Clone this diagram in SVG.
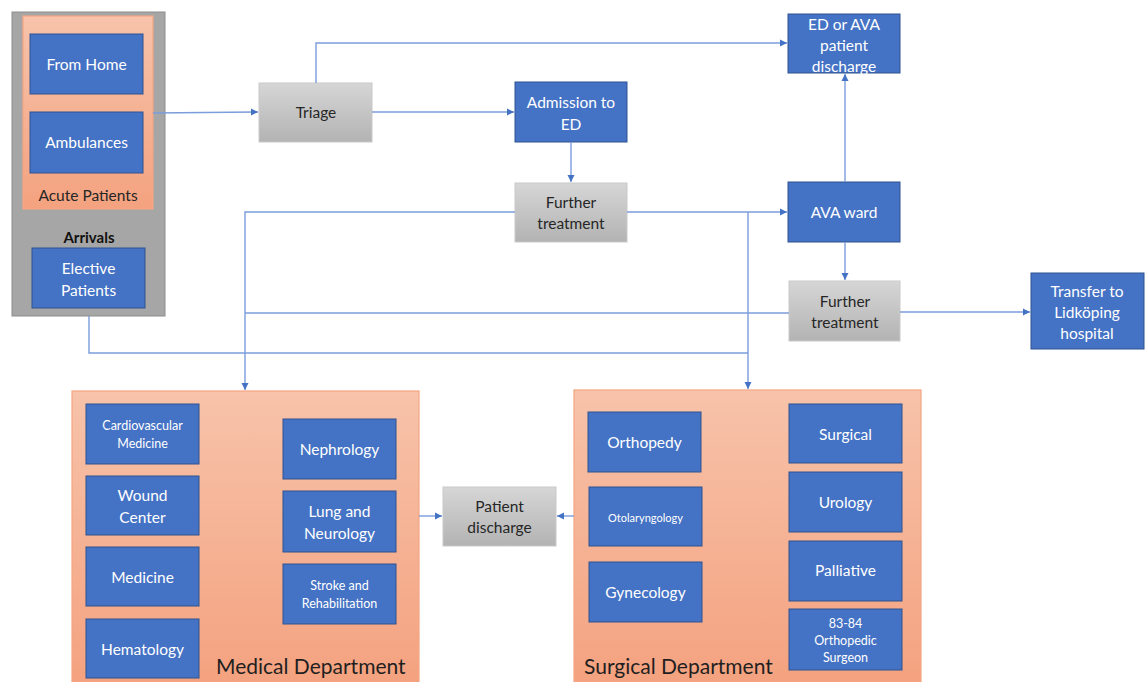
<svg xmlns="http://www.w3.org/2000/svg" width="1146" height="682" viewBox="0 0 1146 682">
<defs>
<linearGradient id="gGray" x1="0" y1="0" x2="0" y2="1"><stop offset="0" stop-color="#d6d6d6"/><stop offset="1" stop-color="#b3b3b3"/></linearGradient>
<linearGradient id="gOrange" x1="0" y1="0" x2="0" y2="1"><stop offset="0" stop-color="#f7c3aa"/><stop offset="1" stop-color="#f4a27f"/></linearGradient>
<marker id="arr" markerWidth="8" markerHeight="8" refX="7" refY="4" orient="auto" markerUnits="userSpaceOnUse"><path d="M0,0.5 L7,4 L0,7.5 Z" fill="#4472c4"/></marker>
<style>
.blue{fill:#4472c4;stroke:#2f528f;stroke-width:1}
.gray{fill:url(#gGray);stroke:#c9c9c9;stroke-width:1}
.dept{fill:url(#gOrange);stroke:#f4a582;stroke-width:1.2}
.wt{font-family:Lato,"Open Sans","Liberation Sans",sans-serif;font-size:15.5px;fill:#ffffff;text-anchor:middle;dominant-baseline:central}
.dt{font-family:Lato,"Open Sans","Liberation Sans",sans-serif;font-size:15.5px;fill:#262626;text-anchor:middle;dominant-baseline:central}
.big{font-family:Lato,"Open Sans","Liberation Sans",sans-serif;font-size:21px;fill:#1f1f1f}
.sm{font-size:12.5px}
.xs{font-size:11px}
.conn{fill:none;stroke:#7b9ddb;stroke-width:1.4}
</style>
</defs>

<g id="arrivals">
<rect x="12" y="12" width="153" height="304" fill="#a6a6a6" stroke="#8c8c8c"/>
<text class="dt" x="89" y="237" style="font-weight:bold;font-size:15px;fill:#111">Arrivals</text>
</g>
<g id="acute-patients">
<rect x="23" y="16" width="130" height="193" class="dept"/>
<text class="dt" x="88" y="195">Acute Patients</text>
</g>
<g id="from-home"><rect class="blue" x="30" y="34" width="113" height="60"/><text class="wt" x="86.5" y="64">From Home</text></g>
<g id="ambulances"><rect class="blue" x="30" y="112" width="113" height="61"/><text class="wt" x="86.5" y="142">Ambulances</text></g>
<g id="elective-patients"><rect class="blue" x="32" y="248" width="113" height="60"/><text class="wt" x="88.5" y="268">Elective</text><text class="wt" x="88.5" y="290">Patients</text></g>

<g id="triage"><rect class="gray" x="259" y="83" width="113" height="59"/><text class="dt" x="316" y="112">Triage</text></g>
<g id="admission-ed"><rect class="blue" x="515" y="82" width="112" height="60"/><text class="wt" x="571" y="102">Admission to</text><text class="wt" x="571" y="124">ED</text></g>
<g id="further-treatment-1"><rect class="gray" x="515" y="183" width="112" height="59"/><text class="dt" x="571" y="202">Further</text><text class="dt" x="571" y="223">treatment</text></g>
<g id="ed-ava-discharge"><rect class="blue" x="788" y="14" width="112" height="59"/><text class="wt" x="844" y="24">ED or AVA</text><text class="wt" x="844" y="45">patient</text><text class="wt" x="844" y="66">discharge</text></g>
<g id="ava-ward"><rect class="blue" x="788" y="182" width="112" height="60"/><text class="wt" x="844" y="212">AVA ward</text></g>
<g id="further-treatment-2"><rect class="gray" x="789" y="281" width="111" height="60"/><text class="dt" x="845" y="301">Further</text><text class="dt" x="845" y="322">treatment</text></g>
<g id="transfer-lidkoping"><rect class="blue" x="1031" y="273" width="113" height="76"/><text class="wt" x="1087" y="291">Transfer to</text><text class="wt" x="1087" y="312">Lidköping</text><text class="wt" x="1087" y="333">hospital</text></g>

<g id="medical-department">
<rect class="dept" x="72" y="391" width="347" height="292"/>
<text class="big" x="216" y="674">Medical Department</text>
</g>
<g id="cardiovascular"><rect class="blue" x="86" y="404" width="113" height="60"/><text class="wt sm" x="142.5" y="425">Cardiovascular</text><text class="wt sm" x="142.5" y="443">Medicine</text></g>
<g id="wound-center"><rect class="blue" x="86" y="476" width="113" height="59"/><text class="wt" x="142.5" y="495">Wound</text><text class="wt" x="142.5" y="517">Center</text></g>
<g id="medicine"><rect class="blue" x="86" y="547" width="113" height="59"/><text class="wt" x="142.5" y="577">Medicine</text></g>
<g id="hematology"><rect class="blue" x="86" y="619" width="113" height="59"/><text class="wt" x="142.5" y="649">Hematology</text></g>
<g id="nephrology"><rect class="blue" x="283" y="419" width="113" height="60"/><text class="wt" x="339.5" y="449">Nephrology</text></g>
<g id="lung-neurology"><rect class="blue" x="283" y="491" width="113" height="61"/><text class="wt" x="339.5" y="511">Lung and</text><text class="wt" x="339.5" y="533">Neurology</text></g>
<g id="stroke-rehab"><rect class="blue" x="283" y="564" width="113" height="60"/><text class="wt sm" x="339.5" y="585">Stroke and</text><text class="wt sm" x="339.5" y="603">Rehabilitation</text></g>

<g id="patient-discharge"><rect class="gray" x="443" y="487" width="113" height="59"/><text class="dt" x="499.5" y="506">Patient</text><text class="dt" x="499.5" y="527">discharge</text></g>

<g id="surgical-department">
<rect class="dept" x="574" y="390" width="347" height="293"/>
<text class="big" x="584" y="674">Surgical Department</text>
</g>
<g id="orthopedy"><rect class="blue" x="588" y="412" width="113" height="60"/><text class="wt" x="644.5" y="442">Orthopedy</text></g>
<g id="otolaryngology"><rect class="blue" x="589" y="487" width="113" height="59"/><text class="wt xs" x="645.5" y="517">Otolaryngology</text></g>
<g id="gynecology"><rect class="blue" x="589" y="562" width="113" height="60"/><text class="wt" x="645.5" y="592">Gynecology</text></g>
<g id="surgical"><rect class="blue" x="789" y="404" width="113" height="59"/><text class="wt" x="845.5" y="434">Surgical</text></g>
<g id="urology"><rect class="blue" x="789" y="472" width="113" height="60"/><text class="wt" x="845.5" y="502">Urology</text></g>
<g id="palliative"><rect class="blue" x="789" y="541" width="113" height="60"/><text class="wt" x="845.5" y="570">Palliative</text></g>
<g id="orthopedic-surgeon"><rect class="blue" x="789" y="609" width="113" height="61"/><text class="wt sm" x="845.5" y="623">83-84</text><text class="wt sm" x="845.5" y="640">Orthopedic</text><text class="wt sm" x="845.5" y="657">Surgeon</text></g>

<g id="connectors">
<path class="conn" d="M153,113 L258,112" marker-end="url(#arr)"/>
<path class="conn" d="M316,83 L316,43 L787,43" marker-end="url(#arr)"/>
<path class="conn" d="M372,112 L514,112" marker-end="url(#arr)"/>
<path class="conn" d="M571,142 L571,182" marker-end="url(#arr)"/>
<path class="conn" d="M515,212 L245,212 L245,390" marker-end="url(#arr)"/>
<path class="conn" d="M627,212 L787,212" marker-end="url(#arr)"/>
<path class="conn" d="M748,212 L748,389" marker-end="url(#arr)"/>
<path class="conn" d="M845,182 L845,74" marker-end="url(#arr)"/>
<path class="conn" d="M845,242 L845,280" marker-end="url(#arr)"/>
<path class="conn" d="M900,312 L1030,312" marker-end="url(#arr)"/>
<path class="conn" d="M789,313 L245,313"/>
<path class="conn" d="M89,316 L89,353 L748,353"/>
<path class="conn" d="M419,516 L442,516" marker-end="url(#arr)"/>
<path class="conn" d="M574,516 L557,516" marker-end="url(#arr)"/>
</g>
</svg>
